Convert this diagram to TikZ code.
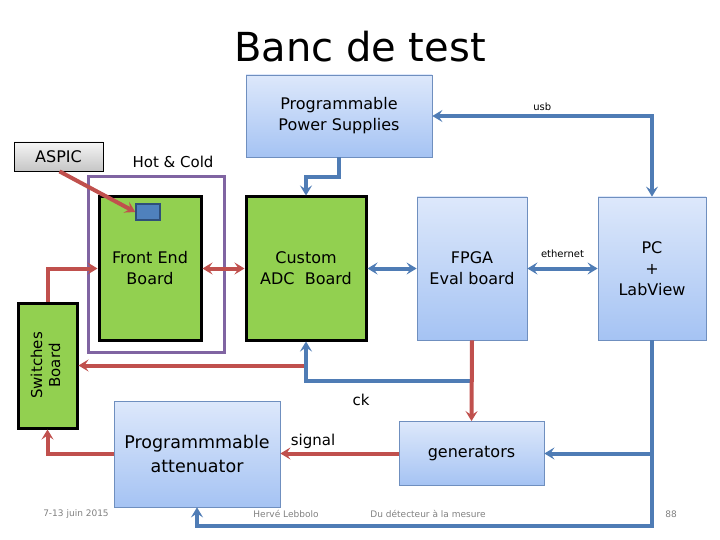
\documentclass[tikz,border=0pt]{standalone}
\usepackage{fontspec}
\setmainfont{DejaVu Sans}
\usetikzlibrary{arrows.meta}
\definecolor{redl}{HTML}{C0504D}
\definecolor{bluel}{HTML}{4F7CB5}
\definecolor{purp}{HTML}{8064A2}
\definecolor{grn}{HTML}{92D050}
\definecolor{bltop}{HTML}{DDE8FB}
\definecolor{blbot}{HTML}{A5C3F3}
\definecolor{blbord}{HTML}{6F8FBF}
\definecolor{chipf}{HTML}{4F81BD}
\definecolor{chipd}{HTML}{2F4F7A}
\begin{document}
\begin{tikzpicture}[x=1pt,y=-1pt,
  bbox/.style={draw=blbord,line width=0.8pt,top color=bltop,bottom color=blbot,align=center,font=\fontsize{16}{21}\selectfont,inner sep=0pt},
  gbox/.style={draw=black,line width=3pt,fill=grn,align=center,font=\fontsize{16}{21}\selectfont,inner sep=0pt},
  rl/.style={draw=redl,line width=4pt},
  bl/.style={draw=bluel,line width=4pt},
  tip/.tip={Stealth[length=10pt,width=12pt,inset=4pt]},
  lab/.style={font=\fontsize{15}{17}\selectfont},
  small/.style={font=\fontsize{10}{11}\selectfont},
  foot/.style={font=\fontsize{9}{10}\selectfont,text=gray}
]
\useasboundingbox (0,0) rectangle (720,540);
\node[font=\fontsize{40}{44}\selectfont] (title) at (360,47) {Banc de test};

\node[bbox,minimum width=186pt,minimum height=82pt] (ps) at (339,116) {Programmable\\Power Supplies};
\node[draw=black,line width=0.8pt,top color=gray!8,bottom color=gray!45,minimum width=89pt,minimum height=29pt,inner sep=0pt,font=\fontsize{16}{18}\selectfont] (aspic) at (58.5,156.5) {ASPIC};
\node[lab,anchor=center] (hclab) at (173,162) {Hot \& Cold};
\node[draw=purp,line width=3pt,minimum width=136pt,minimum height=175pt,inner sep=0pt] (hc) at (156,264.5) {};
\node[gbox,minimum width=102pt,minimum height=143pt] (fe) at (150,268.5) {Front End\\Board};
\node[draw=chipd,line width=1.5pt,fill=chipf,minimum width=24pt,minimum height=16pt,inner sep=0pt] (chip) at (148,212) {};
\node[gbox,minimum width=120pt,minimum height=143pt] (adc) at (306,268.5) {Custom\\ADC\ \ Board};
\node[bbox,minimum width=110pt,minimum height=143pt] (fpga) at (472,268.5) {FPGA\\Eval board};
\node[bbox,minimum width=108pt,minimum height=143pt] (pc) at (652,268.5) {PC\\+\\LabView};
\node[gbox,minimum width=59pt,minimum height=125pt,font=\fontsize{15}{18}\selectfont] (sw) at (47.5,365.5) {\rotatebox{90}{\begin{tabular}{c}Switches\\Board\end{tabular}}};
\node[bbox,minimum width=166pt,minimum height=106pt,font=\fontsize{17.5}{24}\selectfont] (att) at (197,454) {Programmmable\\attenuator};
\node[bbox,minimum width=145pt,minimum height=64pt] (gen) at (471.5,453.5) {generators};

% connectors
\draw[rl,-tip] (aspic.south) ++(1,0) -- (chip.west);
\draw[bl,tip-tip] (ps.east) -| node[pos=0.25,above,small,text=black]{usb} (pc.north);
\draw[bl,-tip] (ps.south) -- (339,177) -| (adc.north);
\draw[rl,tip-tip] (fe.east) -- (adc.west);
\draw[bl,tip-tip] (adc.east) -- (fpga.west);
\draw[bl,tip-tip] (fpga.east) -- node[above=6pt,small,text=black]{ethernet} (pc.west);
\draw[rl,-tip] (sw.north) |- (fe.west);
\coordinate (rj) at (306,365.5);
\coordinate (ckj) at (472,381);
\draw[rl,-tip] (rj) -- (sw.east);
\draw[bl,-tip] (ckj) -| (adc.south);
\draw[rl,-tip] (fpga.south) -- (gen.north);
\node[lab] (ck) at (361,400) {ck};
\draw[rl,-tip] (att.west) -| (sw.south);
\draw[rl,-tip] (gen.west) -- (gen.west -| att.east);
\node[lab] (sig) at (313,441) {signal};
\coordinate (pcb) at (652,526);
\draw[bl,-tip] (pc.south) -- (pcb) -| (att.south);
\draw[bl,-tip] (pc.south |- gen.east) -- (gen.east);

% footer
\node[foot] (f1) at (76,514) {7-13 juin 2015};
\node[foot] (f2) at (286,514) {Hervé Lebbolo};
\node[foot] (f3) at (428,514) {Du détecteur à la mesure};
\node[foot] (f4) at (671,514) {88};
\end{tikzpicture}
\end{document}
